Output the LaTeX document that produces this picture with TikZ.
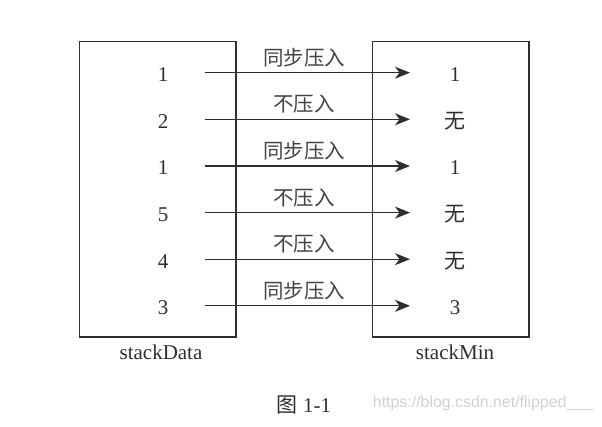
\documentclass[tikz,border=0pt]{standalone}
\usepackage{fontspec}
\setmainfont{Liberation Serif}
\newfontfamily\cjk{Noto Sans CJK SC}
\newfontfamily\wmfont{Liberation Sans}
\usetikzlibrary{arrows.meta}
\definecolor{ink}{HTML}{2E2E2E}
\begin{document}
\begin{tikzpicture}[x=1pt,y=-1pt,
  every node/.style={font=\fontsize{21}{25}\selectfont, text=ink, inner sep=0pt},
  stackbox/.style={draw=ink, line width=1.3pt, minimum width=156.5pt, minimum height=295.5pt},
  val/.style={anchor=center},
  lbl/.style={font=\fontsize{20.5}{24}\selectfont\cjk, text=ink!90},
  push/.style={draw=ink, line width=1.3pt, -{Stealth[length=15pt,width=12pt,inset=4.5pt]}}]
\useasboundingbox (0,0) rectangle (602,427);
\node[stackbox] (data) at (157.8,189.3) {};
\node[stackbox] (min) at (450.8,189.3) {};
\node (dname) at (161,352) {stackData};
\node (mname) at (455,352) {stackMin};
\foreach \i/\y/\l/\r/\t in {1/72.7/1/1/同步压入, 2/119.3/2/\cjk 无/不压入, 3/166/1/1/同步压入, 4/212.6/5/\cjk 无/不压入, 5/259.2/4/\cjk 无/不压入, 6/305.8/3/3/同步压入}{
  \node[val] (l\i) at (163,\y+2) {\l};
  \node[val] (r\i) at (455,\y+2) {\r};
  \coordinate (s\i) at (205,\y);
  \coordinate (e\i) at (410,\y);
  \draw[push] (s\i) -- (e\i);
  \node[lbl] (t\i) at (304,\y-15) {\t};
}
\node (cap) at (304,405) {{\cjk 图} 1-1};
\node[font=\fontsize{15.9}{18}\selectfont\wmfont, text=black!18] (wm) at (483,403) {https://blog.csdn.net/flipped\_\_\_};
\end{tikzpicture}
\end{document}
